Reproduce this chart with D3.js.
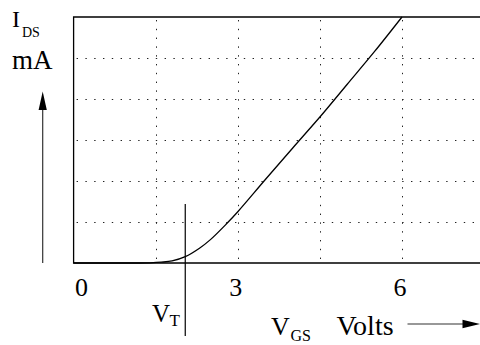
<!DOCTYPE html>
<html>
<head>
<meta charset="utf-8">
<script src="https://cdn.jsdelivr.net/npm/d3@7"></script>
<style>
  html, body { margin: 0; padding: 0; background: #fff; }
  svg { display: block; }
</style>
</head>
<body>
<script>
// MOSFET transfer characteristic: drain current vs gate-source voltage
const vgs = [0, 1.0, 1.2, 1.4, 1.6, 1.8, 2.04, 2.3, 2.5, 2.79, 3.0, 3.5, 4.0, 4.5, 5.0, 5.5, 6.0];
const ids = [0, 0, 0, 0.005, 0.02, 0.05, 0.154, 0.36, 0.57, 0.95, 1.25, 2.03, 2.8, 3.56, 4.36, 5.16, 6.0];
const vThreshold = 2.04;
const xTickValues = [0, 3, 6];
const xGridValues = [1.5, 3, 4.5, 6];
const yGridValues = [1, 2, 3, 4, 5];

const W = 480, H = 345;
const plotLeft = 73.6, plotTop = 17, plotBottom = 263;
const pxPerVolt = 54.73;
const serif = '"Liberation Serif", "Times New Roman", serif';

const svg = d3.select("body").append("svg")
  .attr("width", W).attr("height", H)
  .attr("viewBox", `0 0 ${W} ${H}`);

const x = d3.scaleLinear().domain([0, 7.5]).range([plotLeft, plotLeft + 7.5 * pxPerVolt]);
const y = d3.scaleLinear().domain([0, 6]).range([plotBottom, plotTop]);

// dotted grid
const grid = svg.append("g").attr("stroke", "#222").attr("stroke-width", 1)
  .attr("stroke-dasharray", "1.4 7.4").attr("fill", "none");
grid.selectAll("line.h").data(yGridValues).join("line")
  .attr("class", "h")
  .attr("x1", plotLeft + 3).attr("x2", W)
  .attr("y1", d => Math.round(y(d)) + 0.5).attr("y2", d => Math.round(y(d)) + 0.5);
grid.selectAll("line.v").data(xGridValues).join("line")
  .attr("class", "v")
  .attr("x1", d => Math.round(x(d)) + 0.5).attr("x2", d => Math.round(x(d)) + 0.5)
  .attr("y1", plotTop + 3).attr("y2", plotBottom);

// frame: left, top and bottom edges
svg.append("path")
  .attr("d", `M${W},${plotTop}H${plotLeft}V${plotBottom}H${W}`)
  .attr("stroke", "#000").attr("stroke-width", 1.3).attr("fill", "none");

// transfer curve
const line = d3.line().x((d, i) => x(vgs[i])).y((d, i) => y(ids[i])).curve(d3.curveCatmullRom.alpha(0.5));
svg.append("path")
  .datum(ids)
  .attr("d", line)
  .attr("fill", "none")
  .attr("stroke", "#000")
  .attr("stroke-width", 1.3);

// threshold marker
svg.append("line")
  .attr("x1", x(vThreshold)).attr("x2", x(vThreshold))
  .attr("y1", 204).attr("y2", 336)
  .attr("stroke", "#000").attr("stroke-width", 1.2);

// x tick labels
const axis = svg.append("g")
  .attr("transform", `translate(0,${plotBottom})`)
  .call(d3.axisBottom(x).tickValues(xTickValues).tickSize(0).tickFormat(d3.format("d")));
axis.select(".domain").remove();
axis.selectAll("text")
  .attr("y", 32.5).attr("dy", null)
  .attr("dx", d => d === 0 ? 7.5 : -2.5)
  .style("font-family", serif)
  .style("font-size", "26px")
  .attr("fill", "#000");

function label(xp, yp, size, str) {
  svg.append("text")
    .attr("x", xp).attr("y", yp)
    .style("font-family", serif)
    .style("font-size", size + "px")
    .attr("fill", "#000")
    .text(str);
}

// y-axis label and arrow
label(12, 26.5, 24, "I");
label(22, 37.3, 14, "DS");
label(12, 69, 27, "mA");

svg.append("line")
  .attr("x1", 42.7).attr("x2", 42.7).attr("y1", plotBottom).attr("y2", 108)
  .attr("stroke", "#333").attr("stroke-width", 1.2);
svg.append("path")
  .attr("d", "M42.7,91.5L38.6,110L46.8,110Z")
  .attr("fill", "#000");

// threshold label
label(152, 321.7, 25, "V");
label(169.5, 326, 17, "T");

// x-axis label and arrow
label(271, 335, 26, "V");
label(290.5, 341, 16, "GS");
label(336.5, 335, 28, "Volts");

svg.append("line")
  .attr("x1", 407.5).attr("x2", 465).attr("y1", 324).attr("y2", 324)
  .attr("stroke", "#333").attr("stroke-width", 1.2);
svg.append("path")
  .attr("d", "M480,324L462.5,319.8L462.5,328.2Z")
  .attr("fill", "#000");
</script>
</body>
</html>
